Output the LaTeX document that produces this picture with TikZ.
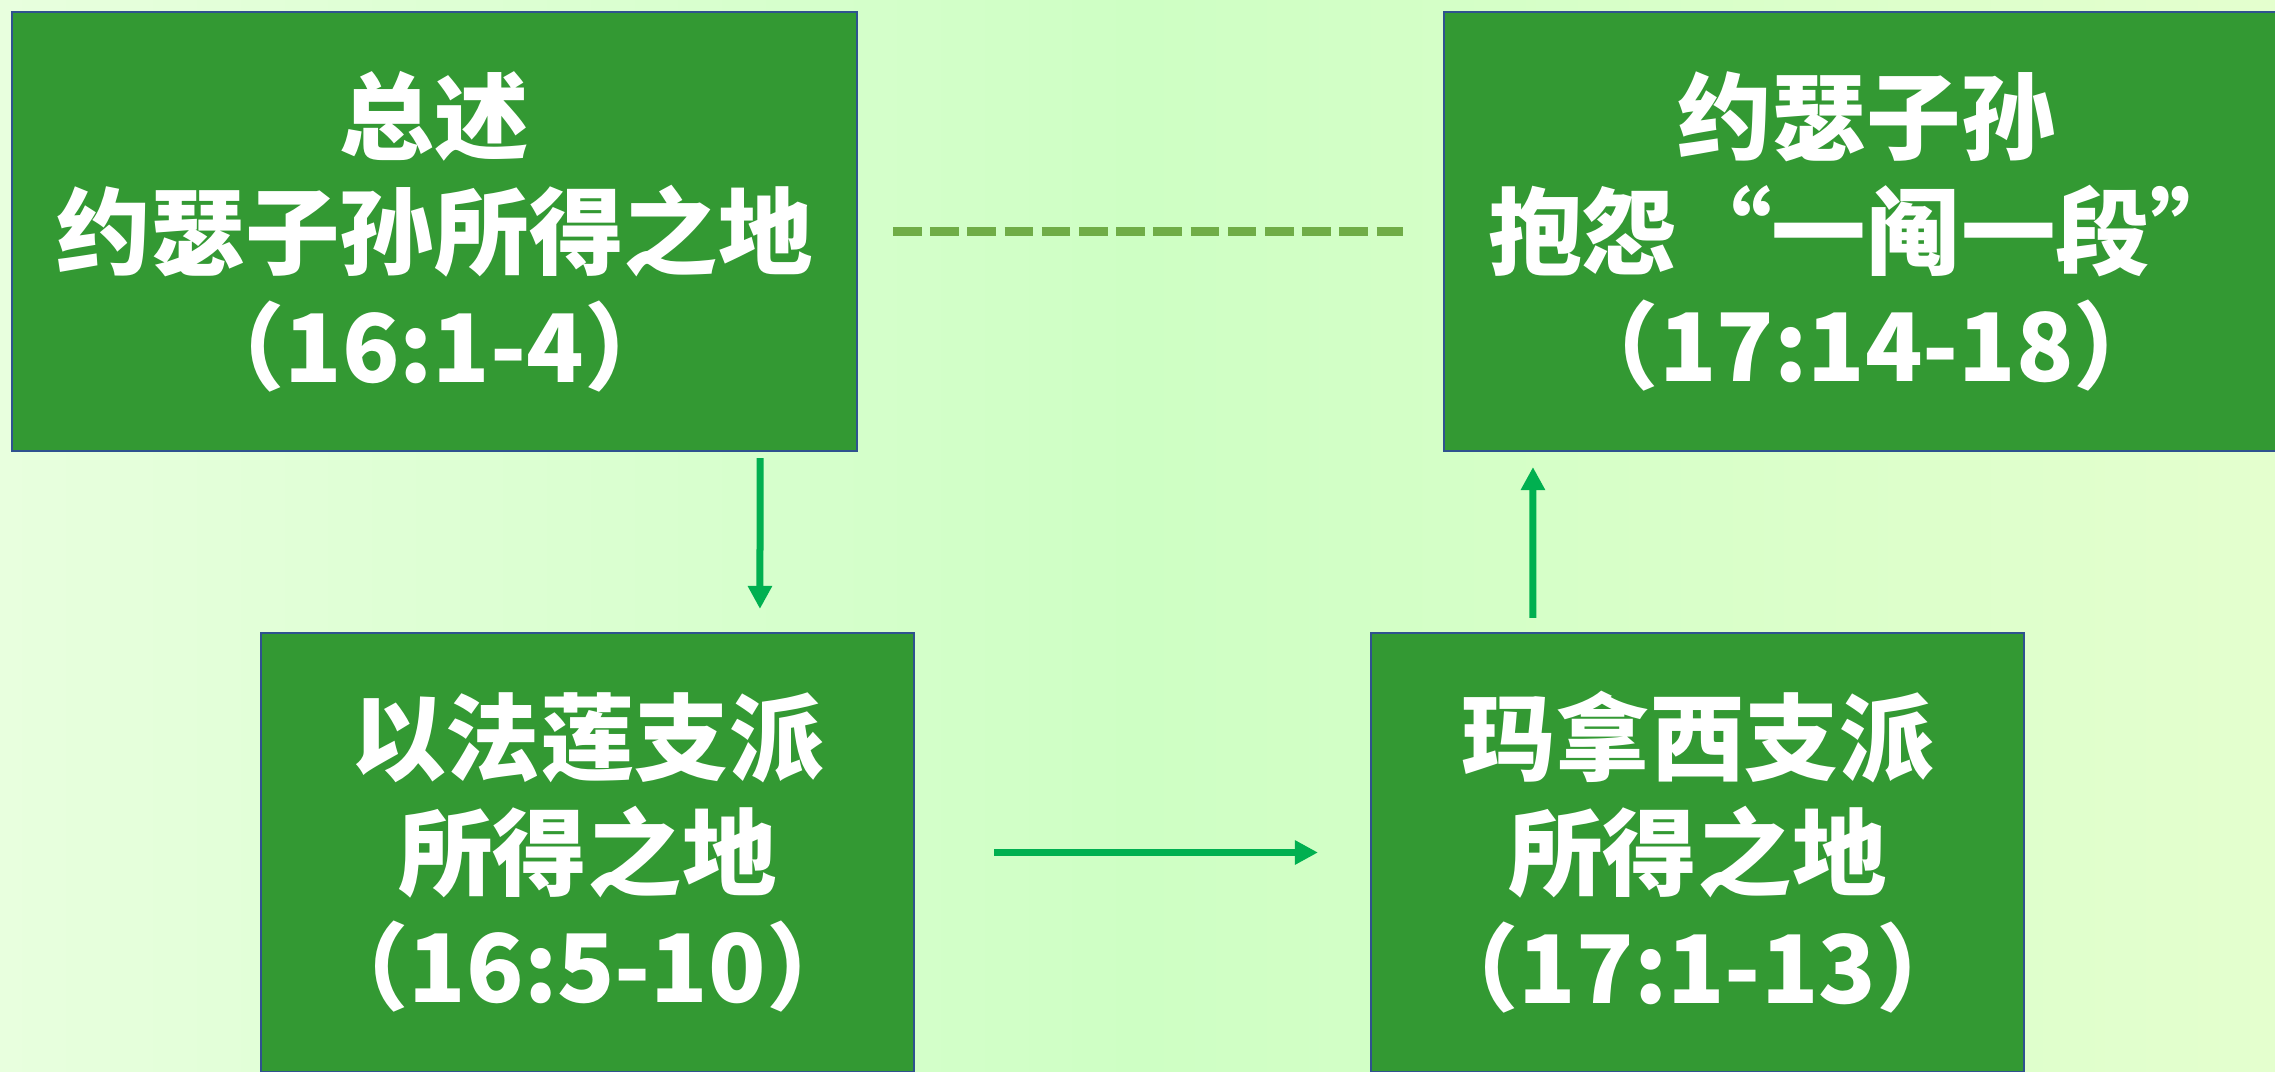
\documentclass[tikz,border=0pt]{standalone}
\usepackage{fontspec}
\usepackage{tikz}
\usetikzlibrary{arrows.meta}
\newfontfamily\cjk{Noto Sans CJK SC}
\definecolor{boxgreen}{RGB}{51,153,51}
\definecolor{boxline}{RGB}{47,82,143}
\definecolor{arrowgreen}{RGB}{0,176,80}
\definecolor{dashgreen}{RGB}{112,173,71}
\definecolor{bgleft}{RGB}{232,255,222}
\definecolor{bgmid}{RGB}{206,255,196}
\definecolor{bgright}{RGB}{228,255,206}

\begin{document}
\begin{tikzpicture}[
    part/.style={draw=boxline, line width=0.6pt, fill=boxgreen, text=white, align=center,
        font=\cjk\bfseries\fontsize{26.9}{32.7}\selectfont, inner sep=0pt},
    flow/.style={draw=arrowgreen, line width=0.07cm, -{Triangle[length=0.23cm,width=0.23cm]}},
    link/.style={draw=dashgreen, line width=0.09cm, dash pattern=on 0.286cm off 0.086cm}
]
    % Background
    \useasboundingbox (0,0) rectangle (22.75,-10.71);
    \shade[left color=bgleft, right color=bgright, middle color=bgmid] (0,0) rectangle (22.75,-10.71);

    % Parts of the land
    \node[part, minimum width=8.45cm, minimum height=4.39cm] (total) at (4.345,-2.315) {总述\\约瑟子孙所得之地\\（16:1-4）};
    \node[part, minimum width=8.45cm, minimum height=4.39cm] (complain) at (18.665,-2.315) {约瑟子孙\\抱怨“一阄一段”\\（17:14-18）};
    \node[part, minimum width=6.53cm, minimum height=4.39cm] (ephraim) at (5.875,-8.525) {以法莲支派\\所得之地\\（16:5-10）};
    \node[part, minimum width=6.53cm, minimum height=4.39cm] (manasseh) at (16.975,-8.525) {玛拿西支派\\所得之地\\（17:1-13）};

    % Arrows
    \draw[flow] ([xshift=-0.98cm,yshift=-0.06cm]total.south east) -- ([xshift=5.0cm,yshift=0.23cm]ephraim.north west);
    \draw[flow] ([xshift=0.79cm]ephraim.east) -- ([xshift=-0.52cm]manasseh.west);
    \draw[flow] ([xshift=1.63cm,yshift=0.14cm]manasseh.north west) -- ([xshift=0.90cm,yshift=-0.15cm]complain.south west);
    \draw[link] ([xshift=0.35cm]total.east) -- ([xshift=-0.40cm]complain.west);
\end{tikzpicture}
\end{document}
